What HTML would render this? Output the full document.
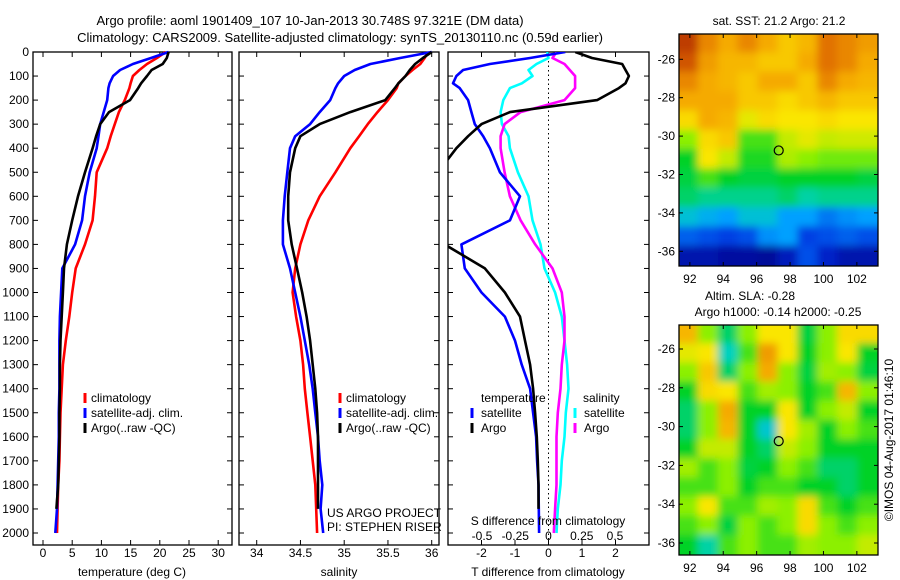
<!DOCTYPE html>
<html><head><meta charset="utf-8">
<style>
html,body{margin:0;padding:0;background:#fff;}
svg{display:block;font-family:"Liberation Sans",sans-serif;font-size:12px;}
</style></head>
<body>
<svg id="chart" width="900" height="580" viewBox="0 0 900 580">
<defs>
<filter id="blur1" filterUnits="userSpaceOnUse" x="660" y="15" width="240" height="560"><feGaussianBlur stdDeviation="4"/></filter>
<clipPath id="clipTop"><rect x="679" y="34" width="199" height="232"/></clipPath>
<clipPath id="clipBot"><rect x="679" y="325" width="199" height="230"/></clipPath>
<clipPath id="clipDiff"><rect x="448" y="52" width="201" height="493"/></clipPath>
</defs>
<text x="310" y="25" text-anchor="middle" font-size="13">Argo profile: aoml 1901409_107 10-Jan-2013 30.748S 97.321E (DM data)</text>
<text x="340" y="42" text-anchor="middle" font-size="13">Climatology: CARS2009. Satellite-adjusted climatology: synTS_20130110.nc (0.59d earlier)</text>
<text x="779" y="25" text-anchor="middle">sat. SST: 21.2 Argo: 21.2</text>
<text x="750" y="300" text-anchor="middle">Altim. SLA: -0.28</text>
<text x="778" y="316" text-anchor="middle">Argo h1000: -0.14 h2000: -0.25</text>
<text transform="translate(893,440) rotate(-90)" text-anchor="middle">©IMOS 04-Aug-2017 01:46:10</text>
<g id="g"></g>
</svg>
<script>
// ---- data ----
const depths = [0,25,50,75,100,130,150,200,250,300,350,400,500,600,700,800,900,1000,1100,1200,1300,1400,1500,1600,1700,1800,1900,2000];
const tempClim = [21,19.5,17.8,16.5,15.4,15,14.8,14,13,12.3,11.6,11,9.2,8.9,8.5,7.2,5.6,5,4.5,3.9,3.4,3.2,3.0,2.9,2.8,2.6,2.5,2.4];
const tempSat  = [21.5,18.5,15.4,13.2,12,11.4,11.2,11,10.4,9.8,9.5,9.2,8,7.2,6.7,5.5,3.3,3.1,2.9,2.8,2.8,2.8,2.7,2.7,2.6,2.5,2.4,2.1];
const tempArgo = [21.5,21.2,20.5,18.6,17.8,16.8,16.3,14.9,11.3,9.8,9.1,8.5,7.2,6,5,4.1,3.6,3.4,3.2,3,2.9,2.9,2.8,2.8,2.7,2.6,2.3,null];
const salClim = [35.96,35.92,35.87,35.78,35.7,35.62,35.6,35.5,35.38,35.27,35.17,35.07,34.9,34.72,34.59,34.5,34.44,34.41,34.45,34.5,34.53,34.55,34.58,34.61,34.64,34.67,34.68,34.69];
const salSat  = [36,35.64,35.3,35.12,35,34.93,34.9,34.84,34.72,34.61,34.44,34.38,34.35,34.32,34.3,34.3,34.38,34.44,34.5,34.55,34.6,34.64,34.67,34.7,34.72,34.75,34.73,34.76];
const salArgo = [36,35.9,35.81,35.75,35.7,35.62,35.58,35.47,35.07,34.72,34.5,34.44,34.38,34.36,34.36,34.4,34.46,34.52,34.57,34.61,34.64,34.67,34.69,34.7,34.7,34.7,34.7,null];
const tDiffSat  = [0.5,-0.55,-1.75,-2.55,-2.75,-2.85,-2.65,-2.4,-2.3,-2.2,-1.95,-1.75,-1.45,-0.85,-1.15,-2.6,-2.5,-2,-1.3,-1,-0.8,-0.55,-0.46,-0.37,-0.34,-0.3,-0.29,-0.28];
const tDiffArgo = [0.8,1.3,2.2,2.3,2.4,2.3,2.1,1.45,-1.15,-2,-2.4,-2.75,-3.3,-3.5,-3.5,-3.1,-1.9,-1.3,-0.85,-0.7,-0.55,-0.46,-0.4,-0.35,-0.32,-0.3,-0.3,null];
const sDiffSat  = [-0.01,0,-0.09,-0.15,-0.12,-0.2,-0.29,-0.34,-0.36,-0.35,-0.3,-0.29,-0.23,-0.15,-0.12,-0.06,-0.03,0.05,0.1,0.12,0.14,0.15,0.13,0.12,0.1,0.09,0.07,0.06];
const sDiffArgo = [0.06,0.03,0.12,0.16,0.2,0.2,0.2,0.12,-0.21,-0.33,-0.36,-0.36,-0.33,-0.29,-0.21,-0.1,0.03,0.1,0.12,0.12,0.1,0.09,0.07,0.06,0.06,0.06,0.05,0.04];
const depthTicks = [0,100,200,300,400,500,600,700,800,900,1000,1100,1200,1300,1400,1500,1600,1700,1800,1900,2000];
const tempTicks = [0,5,10,15,20,25,30];
const salTicks = [34,34.5,35,35.5,36];
const salTickLabels = ["34","34.5","35","35.5","36"];
const tDiffTicks = [-2,-1,0,1,2];
const sDiffTicks = [-0.5,-0.25,0,0.25,0.5];
const lonTicks = [92,94,96,98,100,102];
const latTicks = [-26,-28,-30,-32,-34,-36];
const argoLon = 97.321, argoLat = -30.748;
const sstGrid = [
[.95,.85,.8,.85,.8,.75,.78,.88,.85,.82],
[.92,.82,.78,.78,.75,.75,.8,.88,.85,.8],
[.85,.8,.78,.75,.8,.8,.75,.85,.8,.78],
[.8,.8,.8,.75,.75,.72,.75,.78,.75,.75],
[.72,.8,.78,.68,.72,.7,.7,.72,.7,.7],
[.6,.72,.75,.55,.55,.65,.68,.65,.66,.66],
[.5,.7,.65,.52,.52,.63,.6,.58,.58,.58],
[.48,.55,.5,.48,.48,.5,.5,.5,.5,.48],
[.45,.42,.42,.42,.42,.45,.4,.42,.42,.42],
[.35,.32,.3,.35,.35,.3,.3,.25,.28,.3],
[.22,.2,.18,.2,.28,.3,.18,.2,.22,.2],
[.08,.08,.06,.06,.05,.1,.2,.12,.08,.08]];
const slaGrid = [
[.78,.6,.45,.6,.7,.7,.48,.6,.72,.72],
[.68,.7,.38,.55,.82,.7,.5,.6,.7,.5],
[.6,.75,.45,.6,.8,.6,.48,.62,.6,.48],
[.5,.72,.7,.55,.62,.6,.5,.55,.78,.6],
[.45,.6,.8,.5,.5,.7,.5,.6,.65,.5],
[.45,.6,.78,.5,.36,.7,.62,.5,.6,.55],
[.5,.65,.65,.5,.45,.65,.6,.5,.5,.5],
[.62,.55,.6,.48,.5,.6,.55,.45,.45,.5],
[.55,.55,.6,.5,.55,.55,.5,.5,.45,.5],
[.6,.7,.55,.55,.62,.6,.72,.55,.5,.55],
[.55,.6,.48,.6,.55,.6,.72,.6,.55,.6],
[.5,.4,.55,.6,.55,.55,.62,.6,.6,.65]];

// ---- helpers ----
const NS="http://www.w3.org/2000/svg";
const G=document.getElementById('g');
function mk(tag,attrs,parent){const e=document.createElementNS(NS,tag);for(const k in attrs)e.setAttribute(k,attrs[k]);(parent||G).appendChild(e);return e;}
function txt(x,y,s,anchor,parent){const t=mk('text',{x:x,y:y,'text-anchor':anchor||'middle'},parent);t.textContent=s;return t;}

const TOP=52,BOT=545;
const yD=d=>TOP+d*0.2405;

function panel(name,x0,x1){
  const r=mk('rect',{x:x0,y:TOP,width:x1-x0,height:BOT-TOP,fill:'none',stroke:'#000','stroke-width':1.3});
  
  
}
function xTicks(name,xs,labels,fx,x0,x1,ylab){
  xs.forEach((v,i)=>{const x=fx(v);
    mk('line',{x1:x,x2:x,y1:BOT,y2:BOT-5,stroke:'#000'});
    mk('line',{x1:x,x2:x,y1:TOP,y2:TOP+5,stroke:'#000'});
    if(labels){const t=txt(x,ylab,labels[i]);
      
      }
  });
}
function yTicks(x0,x1,withLabels){
  depthTicks.forEach(d=>{const y=yD(d);
    mk('line',{x1:x0,x2:x0+5,y1:y,y2:y,stroke:'#000'});
    mk('line',{x1:x1,x2:x1-5,y1:y,y2:y,stroke:'#000'});
    if(withLabels){const t=txt(x0-4,y+4,String(d),'end');
      
      }
  });
}
function series(name,vals,fx,color,parent){
  let d='';let started=false;
  vals.forEach((v,i)=>{if(v===null||v===undefined)return;d+=(started?'L':'M')+fx(v).toFixed(1)+','+yD(depths[i]).toFixed(1);started=true;});
  const p=mk('path',{d:d,fill:'none',stroke:color,'stroke-width':2.6,'stroke-linejoin':'round'},parent);
  
  
}
function legendMark(x,y,color){mk('line',{x1:x,x2:x,y1:y-9,y2:y+1,stroke:color,'stroke-width':3});}

// ---- panel 1: temperature ----
const xT=v=>43+v*5.84;
panel('temperature-panel',33,232);
yTicks(33,232,true);
xTicks('temperature',tempTicks,tempTicks.map(String),xT,33,232,557);
series('temp-climatology-line',tempClim,xT,'#f00');
series('temp-satellite-line',tempSat,xT,'#00f');
series('temp-argo-line',tempArgo,xT,'#000');
let t=txt(132,576,'temperature (deg C)');
[['climatology','#f00'],['satellite-adj. clim.','#00f'],['Argo(..raw -QC)','#000']].forEach((e,i)=>{
  const y=402+i*15;legendMark(85,y,e[1]);const l=txt(91,y,e[0],'start');
  });

// ---- panel 2: salinity ----
const xS=v=>256.7+(v-34)*87.5;
panel('salinity-panel',239,439);
yTicks(239,439,false);
xTicks('salinity',salTicks,salTickLabels,xS,239,439,557);
series('sal-climatology-line',salClim,xS,'#f00');
series('sal-satellite-line',salSat,xS,'#00f');
series('sal-argo-line',salArgo,xS,'#000');
t=txt(339,576,'salinity');
[['climatology','#f00'],['satellite-adj. clim.','#00f'],['Argo(..raw -QC)','#000']].forEach((e,i)=>{
  const y=402+i*15;legendMark(340,y,e[1]);const l=txt(346,y,e[0],'start');
  });
t=txt(327,517,'US ARGO PROJECT','start');
t=txt(327,531,'PI: STEPHEN RISER','start');

// ---- panel 3: differences ----
const xTD=v=>548.5+v*33.5;
const xSD=v=>548.5+v*133;
panel('difference-panel',448,649);
yTicks(448,649,false);
xTicks('t-diff',tDiffTicks,tDiffTicks.map(String),xTD,448,649,557);
sDiffTicks.forEach(v=>{const l=txt(xSD(v),540,String(v));});
mk('line',{x1:xTD(0),x2:xTD(0),y1:TOP,y2:BOT,stroke:'#000','stroke-dasharray':'1.5,3'});
const dg=mk('g',{'clip-path':'url(#clipDiff)'});
series('s-diff-satellite-line',sDiffSat,xSD,'#0ff',dg);
series('s-diff-argo-line',sDiffArgo,xSD,'#f0f',dg);
series('t-diff-satellite-line',tDiffSat,xTD,'#00f',dg);
series('t-diff-argo-line',tDiffArgo,xTD,'#000',dg);
t=txt(548,525,'S difference from climatology');
t=txt(548,576,'T difference from climatology');
t=txt(481,402,'temperature','start');
t=txt(583,402,'salinity','start');
[['satellite','#00f',472,417],['Argo','#000',472,432],['satellite','#0ff',575,417],['Argo','#f0f',575,432]].forEach(e=>{
  legendMark(e[2],e[3],e[1]);const l=txt(e[2]+9,e[3],e[0],'start');
  });

// ---- maps ----
function jet(v){
  const stops=[[0,[0,0,120]],[0.15,[0,40,220]],[0.3,[0,160,255]],[0.38,[0,210,190]],[0.5,[0,210,40]],[0.6,[140,240,0]],[0.7,[250,230,0]],[0.8,[245,170,0]],[0.9,[220,100,0]],[1,[160,20,0]]];
  for(let i=1;i<stops.length;i++){if(v<=stops[i][0]){const a=stops[i-1],b=stops[i];const f=(v-a[0])/(b[0]-a[0]);
    const c=a[1].map((x,k)=>Math.round(x+(b[1][k]-x)*f));return 'rgb('+c.join(',')+')';}}
  return 'rgb(160,20,0)';
}
function map(name,grid,x0,y0,w,h,clip,lat26y,latStep){
  const lonX=v=>x0+(v-91.35)*16.7;
  const latY=v=>lat26y+(-26-v)*latStep;
  const outer=mk('g',{'clip-path':'url(#'+clip+')'});
  
  
  const inner=mk('g',{filter:'url(#blur1)'},outer);
  const rows=grid.length,cols=grid[0].length;
  const cw=w/cols,ch=h/rows;
  grid.forEach((row,r)=>row.forEach((v,c)=>{
    const ex0=c===0?-12:-1, ey0=r===0?-12:-1, ex1=c===cols-1?12:1, ey1=r===rows-1?12:1;
    const cell=mk('rect',{x:x0+c*cw+ex0,y:y0+r*ch+ey0,width:cw-ex0+ex1,height:ch-ey0+ey1,fill:jet(v)},inner);
    
    
  }));
  const f=mk('rect',{x:x0,y:y0,width:w,height:h,fill:'none',stroke:'#000','stroke-width':1.3});
  
  lonTicks.forEach(v=>{const x=lonX(v);
    mk('line',{x1:x,x2:x,y1:y0,y2:y0+4,stroke:'#000'});mk('line',{x1:x,x2:x,y1:y0+h,y2:y0+h-4,stroke:'#000'});
    const l=txt(x,y0+h+17,String(v));});
  latTicks.forEach(v=>{const y=latY(v);
    mk('line',{x1:x0,x2:x0+4,y1:y,y2:y,stroke:'#000'});mk('line',{x1:x0+w,x2:x0+w-4,y1:y,y2:y,stroke:'#000'});
    const l=txt(x0-4,y+4,String(v),'end');});
  const c=mk('circle',{cx:lonX(argoLon),cy:latY(argoLat),r:4.5,fill:'none',stroke:'#000','stroke-width':1.2});
  
}
map('sst-map',sstGrid,679,34,199,232,'clipTop',59.3,19.2);
map('sla-map',slaGrid,679,325,199,230,'clipBot',349,19.4);
</script>
</body></html>
